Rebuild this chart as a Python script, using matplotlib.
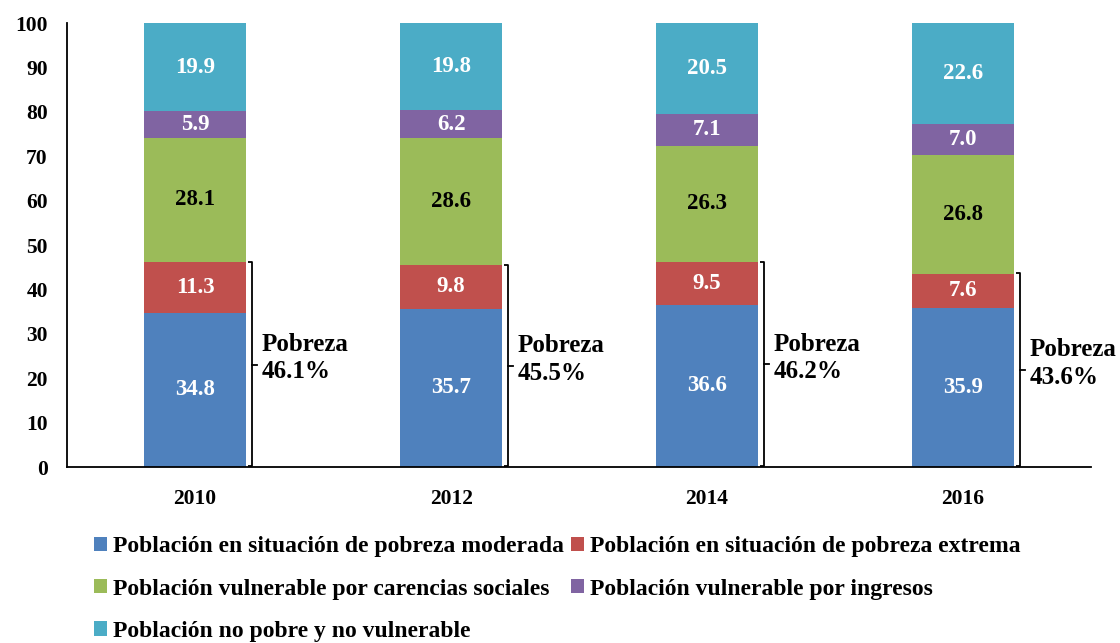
import matplotlib
matplotlib.use("Agg")
import matplotlib.pyplot as plt
from matplotlib.patches import Patch

years = ["2010", "2012", "2014", "2016"]
moderada = [34.8, 35.7, 36.6, 35.9]
extrema = [11.3, 9.8, 9.5, 7.6]
carencias = [28.1, 28.6, 26.3, 26.8]
ingresos = [5.9, 6.2, 7.1, 7.0]
no_pobre = [19.9, 19.8, 20.5, 22.6]
pobreza = [46.1, 45.5, 46.2, 43.6]

series = [
    ("Población en situación de pobreza moderada", moderada, "#4F81BD", "white"),
    ("Población en situación de pobreza extrema", extrema, "#C0504D", "white"),
    ("Población vulnerable por carencias sociales", carencias, "#9BBB59", "black"),
    ("Población vulnerable por ingresos", ingresos, "#8064A2", "white"),
    ("Población no pobre y no vulnerable", no_pobre, "#4BACC6", "white"),
]

plt.rcParams['font.family'] = ['Liberation Serif', 'DejaVu Serif']
plt.rcParams['font.weight'] = 'bold'

fig = plt.figure(figsize=(11.2, 6.43), dpi=100)
ax = fig.add_axes([0.06, 0.2737, 0.914, 0.6905])

x = list(range(len(years)))
width = 0.4
bottoms = [0.0] * len(years)
handles = []
for name, vals, color, tcolor in series:
    ax.bar(x, vals, width, bottom=bottoms, color=color, edgecolor='none')
    for i, v in enumerate(vals):
        ax.text(x[i], bottoms[i] + v / 2, f"{v:.1f}", ha='center', va='center',
                color=tcolor, fontsize=16.5, fontweight='bold')
    bottoms = [b + v for b, v in zip(bottoms, vals)]
    handles.append(Patch(facecolor=color, edgecolor='none', label=name))

# brackets for poverty
for i, tot in enumerate(pobreza):
    bx = x[i] + width / 2 + 0.024
    hook = 0.018
    ax.plot([bx - hook, bx, bx, bx - hook], [tot, tot, 0.3, 0.3], color='black', lw=1.3,
            solid_capstyle='butt', clip_on=False)
    ax.plot([bx, bx + hook], [tot / 2, tot / 2], color='black', lw=1.3, clip_on=False)
    ax.text(bx + 0.035, tot / 2 + 1.5, f"Pobreza\n{tot:.1f}%", ha='left', va='center',
            fontsize=18, fontweight='bold', linespacing=1.25)

ax.set_xlim(-0.5, len(years) - 0.5)
ax.set_ylim(0, 100)
ax.set_yticks(range(0, 101, 10))
ax.set_xticks(x)
ax.set_xticklabels(years)
ax.tick_params(axis='both', length=0, labelsize=15.5)
ax.tick_params(axis='y', pad=14)
ax.tick_params(axis='x', pad=16)
for lab in ax.get_xticklabels() + ax.get_yticklabels():
    lab.set_fontweight('bold')
ax.spines['top'].set_visible(False)
ax.spines['right'].set_visible(False)
ax.spines['left'].set_linewidth(1.3)
ax.spines['bottom'].set_linewidth(1.3)

order = [0, 2, 4, 1, 3]
fig.legend([handles[k] for k in order], [handles[k].get_label() for k in order],
           loc='upper left', bbox_to_anchor=(0.084, 0.166), ncol=2, frameon=False,
           fontsize=17, handlelength=0.55, handleheight=0.55, handletextpad=0.25,
           columnspacing=0.3, labelspacing=0.9, borderaxespad=0, borderpad=0)

fig.savefig("out.png", dpi=100)
